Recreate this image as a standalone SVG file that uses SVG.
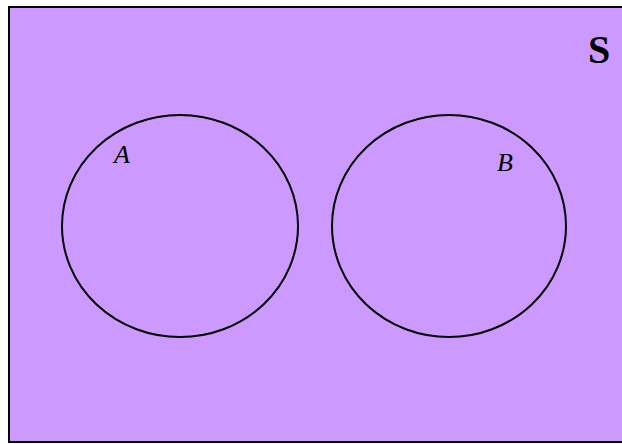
<svg xmlns="http://www.w3.org/2000/svg" width="622" height="444" viewBox="0 0 622 444">
<style>
.set{fill:none;stroke:#000;stroke-width:2}
.lbl{font-family:"Liberation Serif",serif;font-style:italic;font-size:26px;text-anchor:middle}
</style>
<g id="universe">
<rect x="9" y="7" width="630" height="435" fill="#CC99FF" stroke="#000" stroke-width="2"/>
<text x="599" y="63" font-family="Liberation Serif,serif" font-weight="bold" font-size="40" text-anchor="middle">S</text>
</g>
<g id="setA">
<ellipse class="set" cx="180" cy="226" rx="118" ry="111"/>
<text class="lbl" x="122" y="163">A</text>
</g>
<g id="setB">
<ellipse class="set" cx="449" cy="226" rx="117" ry="111"/>
<text class="lbl" x="505" y="171">B</text>
</g>
<g id="connectors"/>
</svg>
